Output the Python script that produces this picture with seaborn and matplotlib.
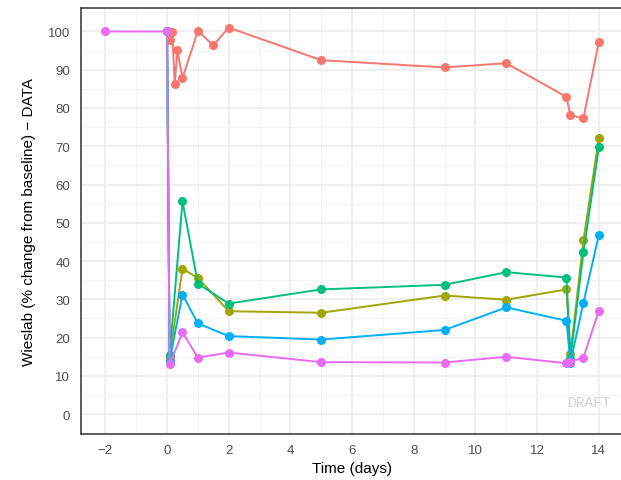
import matplotlib
matplotlib.use("Agg")
import matplotlib.pyplot as plt
from matplotlib.ticker import MultipleLocator
import seaborn as sns
import pandas as pd

# ---- data ----
groups = ["A", "B", "C", "D", "E"]
colors = ["#F8766D", "#A3A500", "#00BF7D", "#00B0F6", "#E76BF3"]

time_a = [0, 0.083, 0.167, 0.25, 0.333, 0.5, 1, 1.5, 2, 5, 9, 11, 12.95, 13.08, 13.5, 14]
val_a = [100, 97.7, 99.9, 86.3, 95.1, 87.8, 100.1, 96.4, 101, 92.5, 90.6, 91.7, 82.9, 78.1, 77.3, 97.3]

time_common = [0, 0.083, 0.5, 1, 2, 5, 9, 11, 12.95, 13.08, 13.5, 14]
val_b = [100, 14.8, 38.0, 35.6, 26.9, 26.5, 31.0, 29.9, 32.6, 15.7, 45.4, 72.1]
val_c = [100, 15.4, 55.6, 34.1, 28.9, 32.6, 33.8, 37.1, 35.7, 14.5, 42.3, 69.7]
val_d = [100, 13.9, 31.25, 23.7, 20.4, 19.5, 22.0, 27.9, 24.4, 13.5, 29.1, 46.8]

time_e = [-2, 0, 0.083, 0.5, 1, 2, 5, 9, 11, 12.95, 13.08, 13.5, 14]
val_e = [100, 100, 13.0, 21.35, 14.8, 16.1, 13.6, 13.5, 15.0, 13.3, 13.7, 14.8, 27.0]

x_ticks = [-2, 0, 2, 4, 6, 8, 10, 12, 14]
y_ticks = [0, 10, 20, 30, 40, 50, 60, 70, 80, 90, 100]

frames = [pd.DataFrame({"time": time_a, "value": val_a, "group": "A"})]
for g, v in zip(groups[1:4], [val_b, val_c, val_d]):
    frames.append(pd.DataFrame({"time": time_common, "value": v, "group": g}))
frames.append(pd.DataFrame({"time": time_e, "value": val_e, "group": "E"}))
df = pd.concat(frames, ignore_index=True)

sns.set_style("white")
plt.rcParams["font.family"] = ["Liberation Sans", "DejaVu Sans"]

fig = plt.figure(figsize=(6.21, 4.81), dpi=100)
W, H = 621, 481
left, right, top, bottom = 80.7, 623.5, 9.3, 434.5
ax = fig.add_axes([left / W, 1 - bottom / H, (right - left) / W, (bottom - top) / H])

sns.lineplot(data=df, x="time", y="value", hue="group", hue_order=groups,
             palette=colors, marker="o", markersize=6.5, markeredgewidth=0,
             linewidth=1.4, estimator=None, sort=False, legend=False, ax=ax)

ax.set_xlim(-2.8, 14.8)
ax.set_ylim(-5.05, 106.05)
ax.set_xticks(x_ticks)
ax.set_xticklabels([str(t).replace("-", "\u2212") for t in x_ticks])
ax.set_yticks(y_ticks)
ax.xaxis.set_minor_locator(MultipleLocator(1))
ax.yaxis.set_minor_locator(MultipleLocator(5))

ax.set_facecolor("white")
ax.grid(True, which="major", color="#EBEBEB", linewidth=1.1)
ax.grid(True, which="minor", color="#F2F2F2", linewidth=0.6)
ax.set_axisbelow(True)
for s in ax.spines.values():
    s.set_color("#333333")
    s.set_linewidth(1.1)

ax.tick_params(axis="both", which="major", length=3.5, width=1.1, color="#333333",
               labelsize=9.5, labelcolor="#4D4D4D", direction="out")
ax.tick_params(axis="y", which="major", pad=4)
ax.tick_params(axis="x", which="major", pad=4)
ax.tick_params(axis="both", which="minor", length=0)

ax.set_xlabel("Time (days)", fontsize=11, color="black", labelpad=4)
ax.set_ylabel("Wieslab (% change from baseline) \u2212 DATA", fontsize=11, color="black", labelpad=9)

ax.text(590 / W, 1 - 403 / H, "DRAFT", transform=fig.transFigure, ha="center", va="center",
        fontsize=10.5, color="#D3D3D3", family=["Liberation Mono", "DejaVu Sans Mono"])

fig.savefig("out.png", dpi=100)
